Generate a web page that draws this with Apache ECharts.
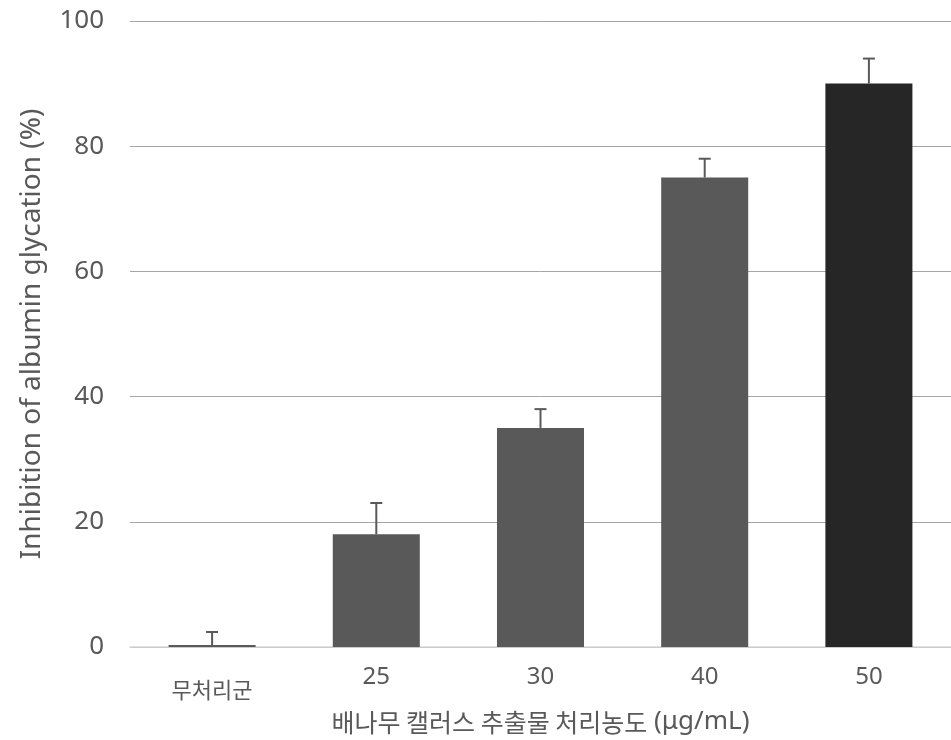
<!DOCTYPE html>
<html>
<head>
<meta charset="utf-8">
<script src="https://cdn.jsdelivr.net/npm/echarts@6/dist/echarts.min.js"></script>
<style>
  html, body { margin: 0; padding: 0; background: #fff; }
  #chart { width: 951px; height: 740px; }
</style>
</head>
<body>
<div id="chart"></div>
<script>
const LATIN = '"Noto Sans", "Noto Sans CJK KR", sans-serif';
const KR = '"Noto Sans CJK KR", sans-serif';
const categories = ['무처리군', '25', '30', '40', '50'];
const values = [0.3, 18, 35, 75, 90];
const errorTops = [2.4, 23, 38, 78, 94];
const barColors = ['#595959', '#595959', '#595959', '#595959', '#262626'];
const TEXT = '#595959';

const chart = echarts.init(document.getElementById('chart'), null, { renderer: 'canvas' });

const option = {
  animation: false,
  textStyle: { fontFamily: LATIN },
  grid: { left: 130, right: 0, top: 21, bottom: 89, containLabel: false },
  xAxis: {
    type: 'category',
    data: categories,
    axisLine: { lineStyle: { color: '#d9d9d9', width: 1.5 } },
    axisTick: { show: false },
    axisLabel: {
      margin: 18,
      formatter: v => (/^\d+$/.test(v) ? `{n|${v}}` : `{k|${v}}`),
      rich: {
        n: { color: TEXT, fontSize: 24, fontFamily: LATIN },
        k: { color: TEXT, fontSize: 22, fontFamily: KR, padding: [14, 0, 0, 0] },
      },
    },
    name: '{k|배나무 캘러스 추출물 처리농도}{l| (\u03bcg/mL)}',
    nameLocation: 'middle',
    nameGap: 62,
    nameTextStyle: {
      rich: {
        k: { color: TEXT, fontSize: 25, fontFamily: KR },
        l: { color: TEXT, fontSize: 26, fontFamily: LATIN },
      },
    },
  },
  yAxis: {
    type: 'value',
    min: 0,
    max: 100,
    interval: 20,
    axisLine: { show: false },
    axisTick: { show: false },
    splitLine: { lineStyle: { color: '#a6a6a6', width: 1 } },
    axisLabel: { color: TEXT, fontSize: 26, margin: 26, fontFamily: LATIN },
    name: 'Inhibition of albumin glycation (%)',
    nameLocation: 'middle',
    nameGap: 84,
    nameTextStyle: { color: TEXT, fontSize: 28, fontFamily: LATIN },
  },
  series: [
    {
      type: 'bar',
      barWidth: '53%',
      data: values.map((v, i) => ({ value: v, itemStyle: { color: barColors[i] } })),
      z: 2,
    },
    {
      type: 'custom',
      z: 3,
      data: values.map((v, i) => [i, v, errorTops[i]]),
      renderItem: (params, api) => {
        const base = api.coord([api.value(0), api.value(1)]);
        const top = api.coord([api.value(0), api.value(2)]);
        const half = 6;
        const style = { stroke: '#595959', lineWidth: 2 };
        return {
          type: 'group',
          children: [
            { type: 'line', shape: { x1: base[0], y1: base[1], x2: top[0], y2: top[1] }, style },
            { type: 'line', shape: { x1: top[0] - half, y1: top[1], x2: top[0] + half, y2: top[1] }, style },
          ],
        };
      },
    },
  ],
};

chart.setOption(option);
</script>
</body>
</html>
